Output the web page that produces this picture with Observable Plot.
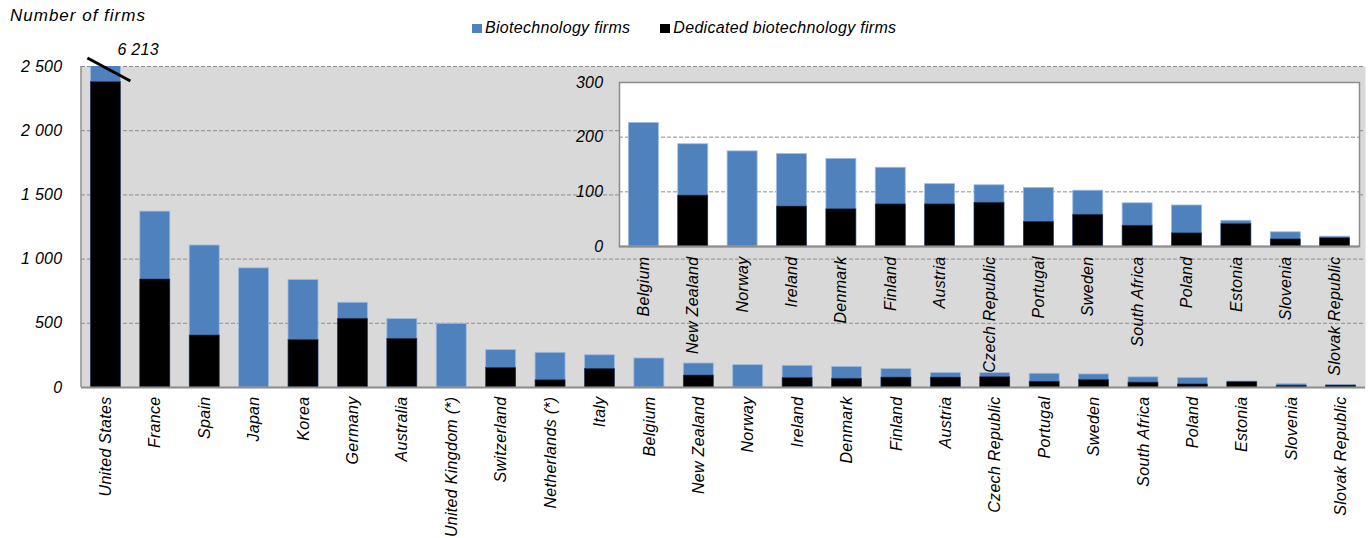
<!DOCTYPE html>
<html>
<head>
<meta charset="utf-8">
<script src="https://cdn.jsdelivr.net/npm/d3@7"></script>
<script src="https://cdn.jsdelivr.net/npm/@observablehq/plot@0.6"></script>
<style>
  html, body { margin: 0; padding: 0; background: #fff; }
  #wrap { position: relative; width: 1368px; height: 538px; font-family: "Liberation Sans", Arial, sans-serif; font-style: italic; }
  #wrap svg { position: absolute; left: 0; top: 0; overflow: visible; }
  #wrap svg text { letter-spacing: 0.3px; }
  #title { position: absolute; left: 10px; top: 6px; font-size: 17px; letter-spacing: 1px; }
  #legend { position: absolute; left: 472px; top: 19px; font-size: 16px; display: flex; align-items: center; }
  #legend .sw { display: inline-block; width: 10px; height: 9px; margin-right: 3px; }
  #legend .item { display: flex; align-items: center; margin-right: 30px; letter-spacing: 0.3px; }
</style>
</head>
<body>
<div id="wrap">
  <div id="title">Number of firms</div>
  <div id="legend"></div>
</div>
<script>
const countries = ["United States", "France", "Spain", "Japan", "Korea", "Germany", "Australia",
  "United Kingdom (*)", "Switzerland", "Netherlands (*)", "Italy", "Belgium", "New Zealand", "Norway",
  "Ireland", "Denmark", "Finland", "Austria", "Czech Republic", "Portugal", "Sweden", "South Africa",
  "Poland", "Estonia", "Slovenia", "Slovak Republic"];
const biotechFirms = [6213, 1370, 1106, 928, 837, 660, 533, 496, 291, 270, 251, 226, 187, 174,
  169, 160, 144, 114, 112, 107, 102, 79, 75, 47, 26, 18];
const dedicatedFirms = [2378, 841, 405, null, 369, 535, 379, null, 152, 56, 144, null, 93, null,
  73, 68, 77, 77, 80, 45, 58, 38, 24, 41, 13, 15];
const insetCountries = countries.slice(11);
const mainTicks = [0, 500, 1000, 1500, 2000, 2500];
const insetTicks = [0, 100, 200, 300];
const seriesNames = ["Biotechnology firms", "Dedicated biotechnology firms"];
const seriesColors = ["#4f81bd", "#000000"];

const rows = countries.map((c, i) => ({country: c, total: biotechFirms[i], dedicated: dedicatedFirms[i]}));
const insetRows = rows.filter(d => insetCountries.includes(d.country));
const fmt = d => d3.format(",")(d).replace(/,/g, " ");
const FONT = "Liberation Sans, Arial, sans-serif";

const mainPlot = Plot.plot({
  width: 1368, height: 538,
  marginLeft: 81, marginRight: 3, marginTop: 66, marginBottom: 151,
  style: {fontFamily: FONT, fontSize: "16px", fontStyle: "italic", background: "transparent", color: "#000"},
  x: {domain: countries, round: false, paddingInner: 0.393, paddingOuter: 0.19, tickSize: 0, tickPadding: 9, tickRotate: -90, label: null},
  y: {domain: [0, 2500], ticks: mainTicks, tickFormat: fmt, tickSize: 0, tickPadding: 19, label: null},
  marks: [
    Plot.frame({fill: "#d9d9d9", stroke: null}),
    Plot.ruleY(mainTicks.filter(d => d > 0), {stroke: "#8c8c8c", strokeDasharray: "4,2", strokeWidth: 1}),
    Plot.barY(rows, {x: "country", y: "total", fill: seriesColors[0], stroke: "#9dbbe0", strokeWidth: 0.8, clip: true}),
    Plot.barY(rows.filter(d => d.dedicated != null), {x: "country", y: "dedicated", fill: seriesColors[1], stroke: "#2a3b55", strokeWidth: 0.6}),
    Plot.ruleY([0], {stroke: "#8c8c8c", strokeWidth: 2})
  ]
});

const svgMain = d3.select(mainPlot);
{
  const xs = mainPlot.scale("x"), ys = mainPlot.scale("y");
  const y0 = ys.apply(0), yTop = ys.apply(2500);
  svgMain.append("line").attr("x1", 81).attr("x2", 81).attr("y1", yTop).attr("y2", y0)
    .attr("stroke", "#8c8c8c").attr("stroke-width", 1.5);
  const cx = xs.apply(countries[0]) + xs.bandwidth / 2;
  svgMain.append("line")
    .attr("x1", cx - 18).attr("y1", yTop - 8).attr("x2", cx + 25).attr("y2", yTop + 15)
    .attr("stroke", "#000").attr("stroke-width", 3);
  svgMain.append("text")
    .attr("x", cx + 12).attr("y", yTop - 11)
    .attr("text-anchor", "start")
    .attr("font-size", 16).attr("font-style", "italic").attr("font-family", FONT)
    .text(fmt(biotechFirms[0]));
}

const insetPlot = Plot.plot({
  width: 1368, height: 538,
  marginLeft: 619, marginRight: 9, marginTop: 82, marginBottom: 292,
  style: {fontFamily: FONT, fontSize: "16px", fontStyle: "italic", background: "transparent", color: "#000"},
  x: {domain: insetCountries, round: false, paddingInner: 0.393, paddingOuter: 0.19, tickSize: 0, tickPadding: 10, tickRotate: -90, label: null},
  y: {domain: [0, 300], ticks: insetTicks, tickFormat: fmt, tickSize: 0, tickPadding: 16, label: null},
  marks: [
    Plot.frame({fill: "#ffffff", stroke: "#8c8c8c", strokeWidth: 1.5}),
    Plot.ruleY(insetTicks.filter(d => d > 0), {stroke: "#8c8c8c", strokeDasharray: "4,2", strokeWidth: 1}),
    Plot.barY(insetRows, {x: "country", y: "total", fill: seriesColors[0], stroke: "#9dbbe0", strokeWidth: 0.8}),
    Plot.barY(insetRows.filter(d => d.dedicated != null), {x: "country", y: "dedicated", fill: seriesColors[1], stroke: "#2a3b55", strokeWidth: 0.6}),
    Plot.ruleY([0], {stroke: "#8c8c8c", strokeWidth: 2})
  ]
});

const wrap = document.getElementById("wrap");
wrap.insertBefore(mainPlot, wrap.firstChild);
wrap.insertBefore(insetPlot, mainPlot.nextSibling);

const legend = document.getElementById("legend");
seriesNames.forEach((name, i) => {
  const item = document.createElement("span");
  item.className = "item";
  item.innerHTML = `<span class="sw" style="background:${seriesColors[i]}"></span><span>${name}</span>`;
  legend.appendChild(item);
});
</script>
</body>
</html>
